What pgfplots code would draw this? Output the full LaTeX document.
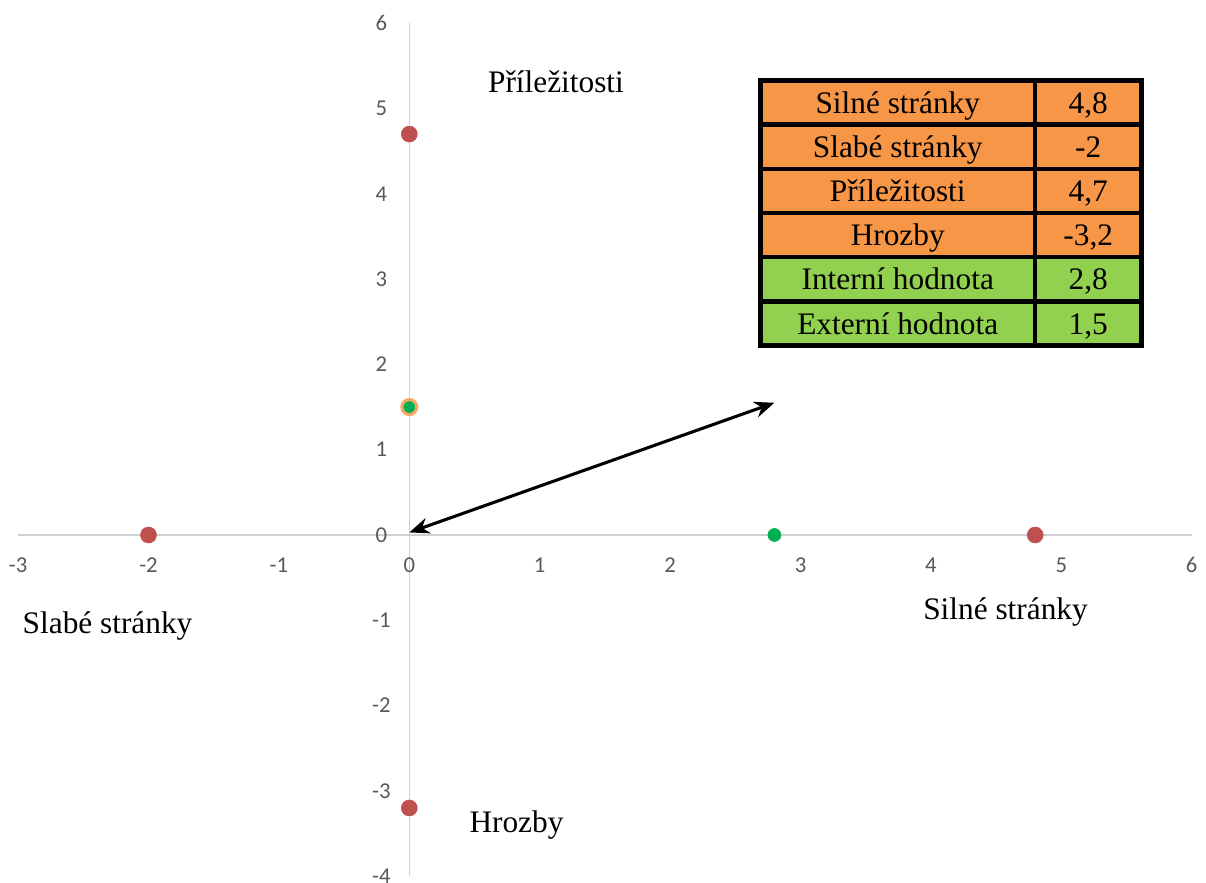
\documentclass[border=0pt]{standalone}
\usepackage{fontspec}
\setmainfont{Liberation Serif}
\newfontfamily\tickfont{Carlito}
\usepackage{pgfplots}
\pgfplotsset{compat=1.18}
\usetikzlibrary{arrows.meta}

\definecolor{axgray}{HTML}{D0D0D0}
\definecolor{ticktext}{HTML}{595959}
\definecolor{dotred}{HTML}{C0504D}
\definecolor{dotgreen}{HTML}{00B050}
\definecolor{celorange}{HTML}{F79646}
\definecolor{celgreen}{HTML}{92D050}

\newcommand{\labfont}{\fontsize{23.5}{28}\selectfont}

\begin{document}
\begin{tikzpicture}
\begin{axis}[
  anchor=origin, at={(0pt,0pt)},
  x=97.8pt, y=63.975pt,
  xmin=-3, xmax=6, ymin=-4, ymax=6,
  axis lines=middle,
  axis line style={axgray, line width=1.1pt, -},
  xtick={-3,...,6}, ytick={-4,...,6},
  major tick length=0pt,
  hide obscured x ticks=false, hide obscured y ticks=false,
  tick label style={font=\tickfont\fontsize{17}{20}\selectfont, text=ticktext},
  /pgf/number format/assume math mode=true,
  xticklabel style={anchor=center, yshift=-22.5pt},
  yticklabel style={anchor=center, xshift=-21pt},
  clip=false,
]
% SWOT body
\addplot[only marks, mark=*, mark size=6pt, mark options={draw=dotred, fill=dotred}]
  coordinates {(4.8,0) (-2,0) (0,4.7) (0,-3.2)};
% internal value
\addplot[only marks, mark=*, mark size=4.9pt, mark options={draw=dotgreen, fill=dotgreen}]
  coordinates {(2.8,0)};
% external value
\addplot[only marks, mark=*, mark size=5.6pt, mark options={draw=celorange!85, fill=dotgreen, line width=2.3pt}]
  coordinates {(0,1.5)};

\draw[{Stealth[length=15pt,width=12pt]}-{Stealth[length=15pt,width=12pt]}, line width=2.3pt]
  (axis cs:0,0.03) -- (axis cs:2.8,1.55);

\node[anchor=base, font=\labfont] at (axis cs:1.125,5.19) {Příležitosti};
\node[anchor=base, font=\labfont] at (axis cs:-2.314,-1.149) {Slabé stránky};
\node[anchor=base, font=\labfont] at (axis cs:4.572,-0.996) {Silné stránky};
\node[anchor=base, font=\labfont] at (axis cs:0.822,-3.49) {Hrozby};
\end{axis}

% value table, in pixel units of the reference
\begin{scope}[shift={(-306.975pt,401.25pt)}, x=0.75pt, y=-0.75pt]
  \foreach \i/\lab/\val/\col in {0/Silné stránky/{4,8}/celorange,
      1/Slabé stránky/-2/celorange, 2/Příležitosti/{4,7}/celorange,
      3/Hrozby/{-3,2}/celorange, 4/Interní hodnota/{2,8}/celgreen,
      5/Externí hodnota/{1,5}/celgreen} {
    \fill[\col] (760.5,{80.5+\i*44.17}) rectangle (1141.5,{80.5+(\i+1)*44.17});
    \node[anchor=base, font=\labfont] at (897.75,{80.5+\i*44.17+32.8}) {\lab};
    \node[anchor=base, font=\labfont] at (1088.25,{80.5+\i*44.17+32.8}) {\val};
    \draw[line width=3.4pt] (760.5,{80.5+\i*44.17}) -- (1141.5,{80.5+\i*44.17});
  }
  \draw[line width=3.4pt] (760.5,80.5) rectangle (1141.5,345.5);
  \draw[line width=3.4pt] (1035,80.5) -- (1035,345.5);
\end{scope}

\pgfresetboundingbox
\path (-306.975pt,-260.25pt) rectangle (597.525pt,401.25pt);
\end{tikzpicture}
\end{document}
